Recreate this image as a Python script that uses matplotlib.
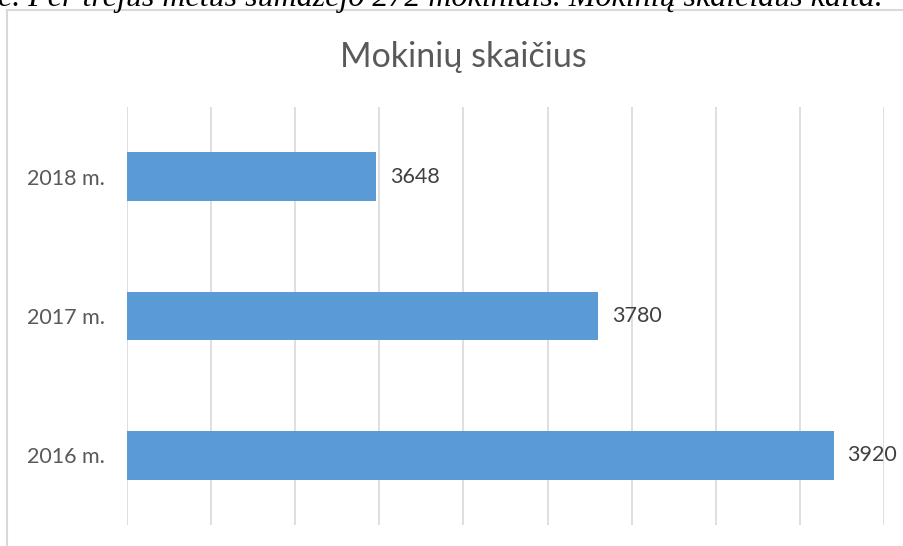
import matplotlib.pyplot as plt
from matplotlib.patches import Rectangle

# Data
years = ['2016 m.', '2017 m.', '2018 m.']
students = [3920, 3780, 3648]
x_ticks = list(range(3500, 3951, 50))

BAR_COLOR = '#5B9BD5'
GRID_COLOR = '#D9D9D9'
TEXT_COLOR = '#595959'

fig = plt.figure(figsize=(9.04, 5.46), dpi=100, facecolor='white')

# Outer chart frame (cropped screenshot, only left/top edges visible)
fig.patches.append(Rectangle((7 / 904, -0.1), 1.2, 1 - 10 / 546 + 0.1,
                             transform=fig.transFigure, fill=False,
                             edgecolor=GRID_COLOR, linewidth=1.5))

# Sentence above the chart, cut off by the screenshot's top edge
fig.text(-2 / 904, 1 - 6 / 546,
         'e. Per trejus metus sumažėjo 272 mokiniais. Mokinių skaičiaus kaita.',
         family='Liberation Serif', style='italic', fontsize=23, color='black',
         ha='left', va='baseline')

ax = fig.add_axes([127 / 904, 1 - 525 / 546, 757 / 904, 418 / 546])
ax.barh(range(len(years)), students, height=0.35, color=BAR_COLOR, zorder=3)

ax.set_xlim(3500, 3950)
ax.set_ylim(-0.5, 2.5)
ax.set_xticks(x_ticks)
ax.set_xticklabels([])
ax.set_yticks(range(len(years)))
ax.set_yticklabels(years, family='Lato', fontsize=15.5, color=TEXT_COLOR)
ax.tick_params(axis='both', length=0)
ax.tick_params(axis='y', pad=16)
ax.grid(axis='x', color=GRID_COLOR, linewidth=1.2, zorder=0)
for s in ax.spines.values():
    s.set_visible(False)

for i, v in enumerate(students):
    ax.annotate(str(v), (v, i), xytext=(10, 0), textcoords='offset points',
                va='center', ha='left', family='Lato', fontsize=15.5,
                color='#404040')

fig.text(463 / 904, 1 - 57 / 546, 'Mokinių skaičius', family='Lato',
         fontsize=24.5, color=TEXT_COLOR, ha='center', va='center')

fig.savefig('out.png', dpi=100)
